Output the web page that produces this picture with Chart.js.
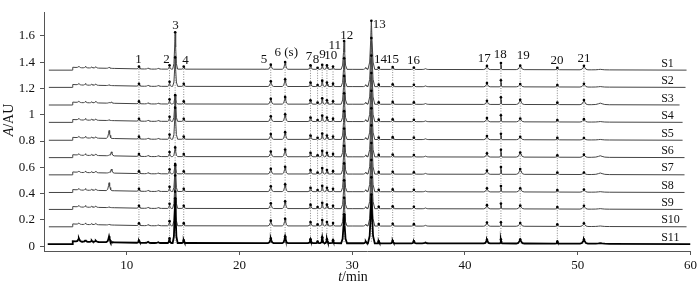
<!DOCTYPE html>
<html>
<head>
<meta charset="utf-8">
<script src="https://cdn.jsdelivr.net/npm/chart.js@4.4.1/dist/chart.umd.min.js"></script>
<style>
    html, body { margin: 0; padding: 0; background: #fff; }
</style>
</head>
<body>
<canvas id="chromChart" width="700" height="286"></canvas>
<script>
// Samples, stacked from top (S1) to bottom (S11)
const sampleNames = ['S1', 'S2', 'S3', 'S4', 'S5', 'S6', 'S7', 'S8', 'S9', 'S10', 'S11'];
const baselines = [1.339, 1.208, 1.074, 0.942, 0.806, 0.674, 0.543, 0.409, 0.280, 0.148, 0.017];
const startTimes = [3.1, 3.1, 3.1, 3.1, 3.1, 3.1, 3.1, 3.1, 3.1, 3.1, 3.0];
const endTimes = [59.65, 59.56, 59.03, 59.3, 59.3, 59.47, 59.47, 59.47, 59.3, 59.65, 60];

// Baseline drift shared by all runs (solvent step at ~5.2 min)
const driftTimes = [5.2, 5.22, 6.0, 12, 30, 45, 60];
const driftLevels = [0, 0.022, 0.018, 0.008, 0.006, 0.004, 0];

// Labelled peaks
const peakLabels = ['1', '2', '3', '4', '5', '6 (s)', '7', '8', '9', '10', '11', '12', '13', '14', '15', '16', '17', '18', '19', '20', '21'];
const peakTimes = [11.09, 13.8, 14.3, 15.06, 22.78, 24.05, 26.3, 26.93, 27.34, 27.76, 28.3, 29.28, 31.7, 32.35, 33.59, 35.47, 41.95, 43.19, 44.9, 48.19, 50.55];
const peakWidths = [0.18, 0.15, 0.22, 0.16, 0.25, 0.25, 0.22, 0.15, 0.18, 0.18, 0.18, 0.26, 0.3, 0.15, 0.18, 0.2, 0.28, 0.1, 0.35, 0.2, 0.35];
// peak heights above baseline, one value per sample S1..S11
const peakHeights = [
    [0.018, 0.018, 0.018, 0.018, 0.018, 0.018, 0.018, 0.018, 0.018, 0.018, 0.015],
    [0.03, 0.035, 0.035, 0.035, 0.035, 0.035, 0.035, 0.035, 0.035, 0.035, 0.035],
    [0.28, 0.22, 0.065, 0.2, 0.24, 0.07, 0.075, 0.2, 0.25, 0.26, 0.34],
    [0.02, 0.02, 0.02, 0.02, 0.02, 0.02, 0.02, 0.02, 0.02, 0.02, 0.02],
    [0.035, 0.04, 0.04, 0.04, 0.04, 0.04, 0.04, 0.04, 0.04, 0.04, 0.035],
    [0.055, 0.055, 0.055, 0.055, 0.055, 0.055, 0.055, 0.055, 0.055, 0.055, 0.05],
    [0.03, 0.03, 0.03, 0.03, 0.03, 0.03, 0.03, 0.03, 0.03, 0.03, 0.03],
    [0.012, 0.012, 0.012, 0.012, 0.012, 0.012, 0.012, 0.012, 0.012, 0.012, 0.012],
    [0.035, 0.045, 0.045, 0.045, 0.045, 0.045, 0.045, 0.045, 0.045, 0.045, 0.045],
    [0.03, 0.03, 0.03, 0.03, 0.03, 0.03, 0.03, 0.03, 0.03, 0.03, 0.03],
    [0.022, 0.022, 0.022, 0.022, 0.022, 0.022, 0.022, 0.022, 0.022, 0.022, 0.022],
    [0.215, 0.215, 0.215, 0.215, 0.215, 0.215, 0.215, 0.215, 0.215, 0.215, 0.22],
    [0.37, 0.37, 0.37, 0.37, 0.37, 0.37, 0.37, 0.37, 0.37, 0.37, 0.37],
    [0.015, 0.015, 0.015, 0.015, 0.015, 0.015, 0.015, 0.015, 0.015, 0.015, 0.015],
    [0.018, 0.018, 0.018, 0.018, 0.018, 0.018, 0.018, 0.018, 0.018, 0.018, 0.018],
    [0.015, 0.015, 0.015, 0.015, 0.015, 0.015, 0.015, 0.015, 0.015, 0.015, 0.015],
    [0.028, 0.028, 0.028, 0.028, 0.028, 0.028, 0.028, 0.028, 0.028, 0.028, 0.028],
    [0.05, 0.05, 0.055, 0.05, 0.045, 0.055, 0.055, 0.045, 0.04, 0.03, 0.03],
    [0.03, 0.022, 0.035, 0.025, 0.022, 0.035, 0.04, 0.028, 0.025, 0.025, 0.03],
    [0.015, 0.015, 0.015, 0.015, 0.015, 0.015, 0.015, 0.015, 0.015, 0.015, 0.015],
    [0.03, 0.025, 0.035, 0.022, 0.015, 0.02, 0.015, 0.02, 0.025, 0.025, 0.032]
];

// Small unlabelled peaks
const minorTimes = [5.76, 6.35, 6.9, 7.26, 8.44, 8.65, 11.9, 12.8, 31.2, 36.5, 52];
const minorWidths = [0.25, 0.2, 0.2, 0.25, 0.25, 0.25, 0.3, 0.3, 0.2, 0.3, 0.8];
const minorHeights = [
    [0.01, 0.01, 0.01, 0.01, 0.01, 0.01, 0.01, 0.01, 0.01, 0.01, 0.025],
    [0.012, 0.012, 0.012, 0.012, 0.012, 0.012, 0.012, 0.012, 0.012, 0.012, 0.015],
    [0.008, 0.008, 0.008, 0.008, 0.008, 0.008, 0.008, 0.008, 0.008, 0.008, 0.01],
    [0.01, 0.01, 0.012, 0.01, 0.01, 0.012, 0.012, 0.01, 0.01, 0.01, 0.01],
    [0.008, 0.005, 0.005, 0.005, 0.06, 0.005, 0.005, 0.06, 0.005, 0.005, 0.045],
    [0, 0, 0.008, 0, 0, 0.03, 0.03, 0, 0, 0, 0],
    [0.008, 0.008, 0.008, 0.008, 0.008, 0.008, 0.008, 0.008, 0.008, 0.008, 0.008],
    [0.006, 0.006, 0.006, 0.006, 0.006, 0.006, 0.006, 0.006, 0.006, 0.006, 0.006],
    [0.015, 0.015, 0.015, 0.015, 0.015, 0.015, 0.015, 0.015, 0.015, 0.015, 0.015],
    [0.006, 0.006, 0.006, 0.006, 0.006, 0.006, 0.006, 0.006, 0.006, 0.006, 0.006],
    [0.004, 0.004, 0.012, 0.004, 0.004, 0.012, 0.012, 0.004, 0.004, 0.004, 0.004]
];

const xTicks = [10, 20, 30, 40, 50, 60];
const yTicks = [0, 0.2, 0.4, 0.6, 0.8, 1, 1.2, 1.4, 1.6];

// peak shape (relative to peak width / height)
const profileOffsets = [-1, -0.5, -0.2, 0, 0.2, 0.5, 1];
const profileLevels = [0, 0.15, 0.6, 1, 0.6, 0.15, 0];

function interp(xs, ys, t) {
    if (t <= xs[0]) return ys[0];
    for (let i = 1; i < xs.length; i++) {
        if (t <= xs[i]) {
            const f = (t - xs[i - 1]) / (xs[i] - xs[i - 1]);
            return ys[i - 1] + f * (ys[i] - ys[i - 1]);
        }
    }
    return ys[ys.length - 1];
}

function profileAt(u) {
    if (u <= -1 || u >= 1) return 0;
    return interp(profileOffsets, profileLevels, u);
}

function traceData(s) {
    const peaks = [];
    peakTimes.forEach((t, p) => peaks.push({ t, w: peakWidths[p], h: peakHeights[p][s], mark: true }));
    minorTimes.forEach((t, p) => peaks.push({ t, w: minorWidths[p], h: minorHeights[p][s], mark: false }));

    const xs = new Set([startTimes[s], endTimes[s]]);
    driftTimes.forEach(t => xs.add(t));
    peaks.forEach(pk => profileOffsets.forEach(o => xs.add(+(pk.t + o * pk.w).toFixed(4))));

    return [...xs]
        .filter(t => t >= startTimes[s] && t <= endTimes[s])
        .sort((a, b) => a - b)
        .map(t => {
            let y = baselines[s] + interp(driftTimes, driftLevels, t);
            peaks.forEach(pk => { y += pk.h * profileAt((t - pk.t) / pk.w); });
            const mark = peaks.some(pk => pk.mark && Math.abs(pk.t - t) < 1e-6);
            return { x: t, y, mark };
        });
}

const datasets = [];

// S11 first so it sits on top
for (let s = sampleNames.length - 1; s >= 0; s--) {
    const last = s === sampleNames.length - 1;
    datasets.push({
        label: sampleNames[s],
        data: traceData(s),
        borderColor: last ? '#000' : '#444',
        borderWidth: last ? 1.8 : 1,
        pointRadius: c => (c.raw && c.raw.mark ? 1.3 : 0),
        pointBackgroundColor: '#000',
        pointBorderWidth: 0,
        showLine: true,
        tension: 0,
        order: last ? 0 : 1
    });
}

// dotted guides from the S1 peak down to S11
peakTimes.forEach((t, p) => {
    const drift = interp(driftTimes, driftLevels, t);
    datasets.push({
        label: 'guide ' + peakLabels[p],
        data: [
            { x: t, y: baselines[0] + drift + peakHeights[p][0] },
            { x: t, y: baselines[baselines.length - 1] + drift }
        ],
        borderColor: '#888',
        borderWidth: 1,
        borderDash: [1, 1.5],
        pointRadius: 0,
        showLine: true,
        order: 2
    });
});

// label anchors (data coords) for the peak numbers
const labelTimes = [11.06, 13.53, 14.33, 15.21, 22.19, 24.15, 26.17, 26.8, 27.36, 28.1, 28.46, 29.52, 32.4, 32.5, 33.58, 35.44, 41.71, 43.12, 45.16, 48.17, 50.55];
const labelLevels = [1.417, 1.417, 1.68, 1.41, 1.417, 1.476, 1.44, 1.417, 1.46, 1.446, 1.527, 1.6, 1.687, 1.417, 1.417, 1.41, 1.43, 1.46, 1.446, 1.41, 1.43];

const serif = '"Liberation Serif", "DejaVu Serif", serif';

const textPlugin = {
    id: 'chromText',
    afterDatasetsDraw(chart) {
        const { ctx, scales: { x, y } } = chart;
        ctx.save();
        ctx.fillStyle = '#111';
        ctx.textBaseline = 'middle';

        // peak numbers
        ctx.font = '13px ' + serif;
        ctx.textAlign = 'center';
        peakLabels.forEach((lab, i) => {
            ctx.fillText(lab, x.getPixelForValue(labelTimes[i]), y.getPixelForValue(labelLevels[i]));
        });

        // sample names at the right end of each trace
        ctx.font = '12px ' + serif;
        ctx.textAlign = 'left';
        sampleNames.forEach((name, s) => {
            ctx.fillText(name, x.getPixelForValue(57.4), y.getPixelForValue(baselines[s] + 0.05));
        });

        // y title: italic A + /AU
        ctx.save();
        ctx.translate(9, 120);
        ctx.rotate(-Math.PI / 2);
        ctx.font = 'italic 14px ' + serif;
        const wA = ctx.measureText('A').width;
        ctx.font = '14px ' + serif;
        const wR = ctx.measureText('/AU').width;
        const x0 = -(wA + wR) / 2;
        ctx.textAlign = 'left';
        ctx.font = 'italic 14px ' + serif;
        ctx.fillText('A', x0, 0);
        ctx.font = '14px ' + serif;
        ctx.fillText('/AU', x0 + wA, 0);
        ctx.restore();

        // x title: italic t + /min
        ctx.font = 'italic 14px ' + serif;
        const wt = ctx.measureText('t').width;
        ctx.font = '14px ' + serif;
        const wm = ctx.measureText('/min').width;
        const cx = 353 - (wt + wm) / 2;
        ctx.textAlign = 'left';
        ctx.font = 'italic 14px ' + serif;
        ctx.fillText('t', cx, 277);
        ctx.font = '14px ' + serif;
        ctx.fillText('/min', cx + wt, 277);

        ctx.restore();
    }
};

const ctx = document.getElementById('chromChart').getContext('2d');
const chromChart = new Chart(ctx, {
    type: 'scatter',
    data: { datasets },
    options: {
        responsive: false,
        animation: false,
        devicePixelRatio: 1,
        layout: { padding: { top: 3, right: 8, left: 0, bottom: 0 } },
        plugins: {
            legend: { display: false },
            tooltip: { enabled: false }
        },
        scales: {
            x: {
                type: 'linear',
                min: 2.67,
                max: 60,
                afterBuildTicks: sc => { sc.ticks = xTicks.map(v => ({ value: v })); },
                afterFit: sc => { sc.height = 35; },
                ticks: {
                    autoSkip: false,
                    maxRotation: 0,
                    padding: 3,
                    color: '#111',
                    font: { family: serif, size: 13 }
                },
                grid: { drawOnChartArea: false, tickLength: 4, color: '#555' },
                border: { color: '#555' }
            },
            y: {
                min: -0.036,
                max: 1.775,
                afterBuildTicks: sc => { sc.ticks = yTicks.map(v => ({ value: v })); },
                afterFit: sc => { sc.width = 44; },
                ticks: {
                    padding: 5,
                    color: '#111',
                    font: { family: serif, size: 13 },
                    callback: v => (v === 0 || v === 1 ? String(v) : v.toFixed(1))
                },
                grid: { drawOnChartArea: false, tickLength: 4, color: '#555' },
                border: { color: '#555' }
            }
        }
    },
    plugins: [textPlugin]
});
</script>
</body>
</html>
